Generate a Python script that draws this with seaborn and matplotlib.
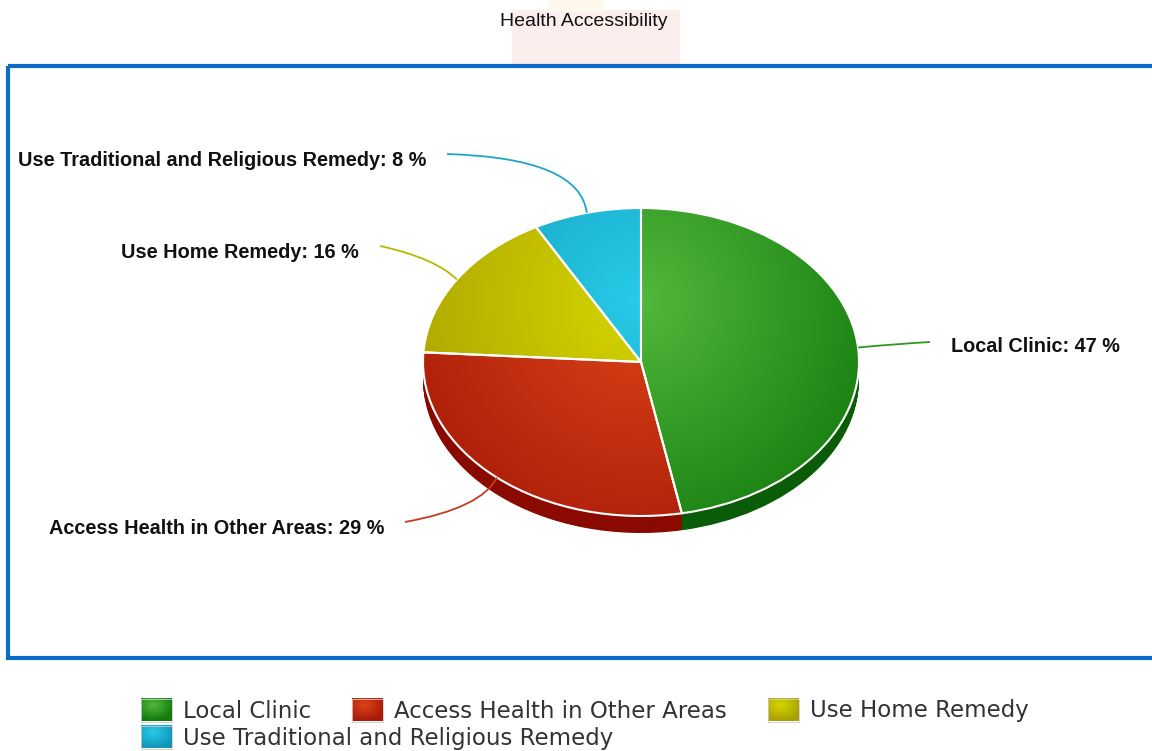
import numpy as np
import matplotlib
matplotlib.use("Agg")
import matplotlib.pyplot as plt
import seaborn as sns
from matplotlib.patches import Rectangle, PathPatch
from matplotlib.path import Path
from matplotlib.colors import to_rgb

# ---------------- data ----------------
categories = ["Local Clinic", "Access Health in Other Areas", "Use Home Remedy",
              "Use Traditional and Religious Remedy"]
values = [47, 29, 16, 8]
title = "Health Accessibility"
light_colors = ["#52b83c", "#dc4418", "#d6d600", "#28cbe8"]
dark_colors = ["#127a0c", "#a81a08", "#a8a000", "#1096b6"]
side_colors = ["#0b5c08", "#8a0a00", "#7a7600", "#0a6f88"]

sns.set_theme(style="white")
plt.rcParams["font.family"] = ["Liberation Sans", "DejaVu Sans"]

W, H = 1152, 751
fig = plt.figure(figsize=(W / 100, H / 100), dpi=100)
fig.patch.set_facecolor("white")

# overlay axes in pixel coordinates
ax0 = fig.add_axes([0, 0, 1, 1])
ax0.set_xlim(0, W)
ax0.set_ylim(H, 0)
ax0.axis("off")

# faint watermark behind title
ax0.add_patch(Rectangle((512, 10), 168, 54, facecolor="#fdeeee", edgecolor="none", zorder=0))
ax0.add_patch(Rectangle((548, 0), 56, 12, facecolor="#fef7ec", edgecolor="none", zorder=0))

ax0.text(584, 22, title, ha="center", va="center", fontsize=14, color="#111111", zorder=2)

# border box
ax0.add_patch(Rectangle((8, 66), W + 20, 592, facecolor="none", edgecolor="#0a6cc4", linewidth=3, zorder=1))

# pie geometry (pixels)
cx, cy, rx, ry, depth = 641, 362, 218, 154, 17
axp = fig.add_axes([(cx - rx) / W, (H - (cy + ry + depth)) / H, 2 * rx / W, (2 * ry + depth) / H])
axp.axis("off")
axp.patch.set_alpha(0)

dy = depth / ry
# side (depth)
for off in np.linspace(dy, 0.0, 26):
    axp.pie(values, colors=side_colors, startangle=90, counterclock=False,
            center=(0, -off), radius=1, frame=False,
            wedgeprops=dict(linewidth=0))

# top surface
wedges, _ = axp.pie(values, colors=light_colors, startangle=90, counterclock=False,
                    radius=1, frame=False,
                    wedgeprops=dict(linewidth=1.5, edgecolor="white"))

# radial gradient
n = 300
gx, gy = np.meshgrid(np.linspace(-1, 1, n), np.linspace(-1, 1, n))
hx, hy = 0.0, 0.40
d = np.sqrt(((gx - hx) * rx) ** 2 + ((gy - hy) * ry) ** 2)
t = np.clip(d / 280.0, 0, 1)[..., None]
for w, lc, dc in zip(wedges, light_colors, dark_colors):
    img = np.array(to_rgb(lc)) * (1 - t) + np.array(to_rgb(dc)) * t
    im = axp.imshow(img, extent=(-1, 1, -1, 1), origin="lower", zorder=2, interpolation="bilinear")
    im.set_clip_path(w)
    w.set_facecolor("none")
    w.set_zorder(3)
axp.set_aspect("auto")
axp.set_xlim(-1, 1)
axp.set_ylim(-1 - dy, 1)
axp.set_position([(cx - rx) / W, (H - (cy + ry + depth)) / H, 2 * rx / W, (2 * ry + depth) / H])

# labels with curved leader lines
line_colors = ["#2a9a1e", "#c83a1e", "#b8b800", "#1ba8c8"]
leader_ends = [(930, 342), (405, 522), (380, 246), (447, 154)]
controls = [(895, 344), (482, 508), (435, 258), (580, 158)]
cum = np.cumsum([0] + values[:-1])
total = sum(values)
for i, (cat, v) in enumerate(zip(categories, values)):
    mid = np.deg2rad(90 - (cum[i] + v / 2) / total * 360)
    ax_, ay_ = cx + rx * np.cos(mid), cy - ry * np.sin(mid)
    ex, ey = leader_ends[i]
    px, py = controls[i]
    path = Path([(ax_, ay_), (px, py), (ex, ey)], [Path.MOVETO, Path.CURVE3, Path.CURVE3])
    ax0.add_patch(PathPatch(path, facecolor="none", edgecolor=line_colors[i], linewidth=1.3, zorder=5))
    if ex > cx:
        ax0.text(ex + 21, ey + 5, f"{cat}: {v} %", ha="left", va="center", fontsize=14.3,
                 fontweight="bold", color="#111111", zorder=6)
    else:
        ax0.text(ex - 21, ey + 6, f"{cat}: {v} %", ha="right", va="center", fontsize=14.3,
                 fontweight="bold", color="#111111", zorder=6)
ax0.set_zorder(2)
ax0.patch.set_alpha(0)

# legend (flow layout)
fig.canvas.draw()
renderer = fig.canvas.get_renderer()
leg_fs = 16.5
mw, mh = 31, 23
def text_width(s):
    tt = ax0.text(0, 0, s, fontsize=leg_fs, family="DejaVu Sans")
    bb = tt.get_window_extent(renderer)
    tt.remove()
    return bb.width

rows = [[0, 1, 2], [3]]
row_y = [710, 737]
widths = [mw + 11 + text_width(c) for c in categories]
gap = 41
row1_w = sum(widths[i] for i in rows[0]) + gap * (len(rows[0]) - 1)
start_x = 584.5 - row1_w / 2
my, mxg = np.meshgrid(np.linspace(-1, 1, 30), np.linspace(-1, 1, 40), indexing="ij")
md = np.clip(np.sqrt((mxg + 0.2) ** 2 + (my + 0.4) ** 2) / 1.4, 0, 1)[..., None]
for r, idxs in enumerate(rows):
    x = start_x
    for i in idxs:
        img = np.array(to_rgb(light_colors[i])) * (1 - md) + np.array(to_rgb(dark_colors[i])) * md
        y0 = row_y[r] - mh / 2
        ax0.imshow(img, extent=(x, x + mw, y0 + mh, y0), origin="upper", zorder=3, aspect="auto")
        ax0.add_patch(Rectangle((x, y0), mw, mh, facecolor="none", edgecolor="#cccccc", linewidth=0.6, zorder=4))
        ax0.text(x + mw + 11, row_y[r] + 1, categories[i], fontsize=leg_fs, family="DejaVu Sans",
                 color="#333333", ha="left", va="center", zorder=4)
        x += widths[i] + gap
ax0.set_xlim(0, W)
ax0.set_ylim(H, 0)
ax0.set_aspect("auto")

fig.savefig("out.png", dpi=100, facecolor="white")
